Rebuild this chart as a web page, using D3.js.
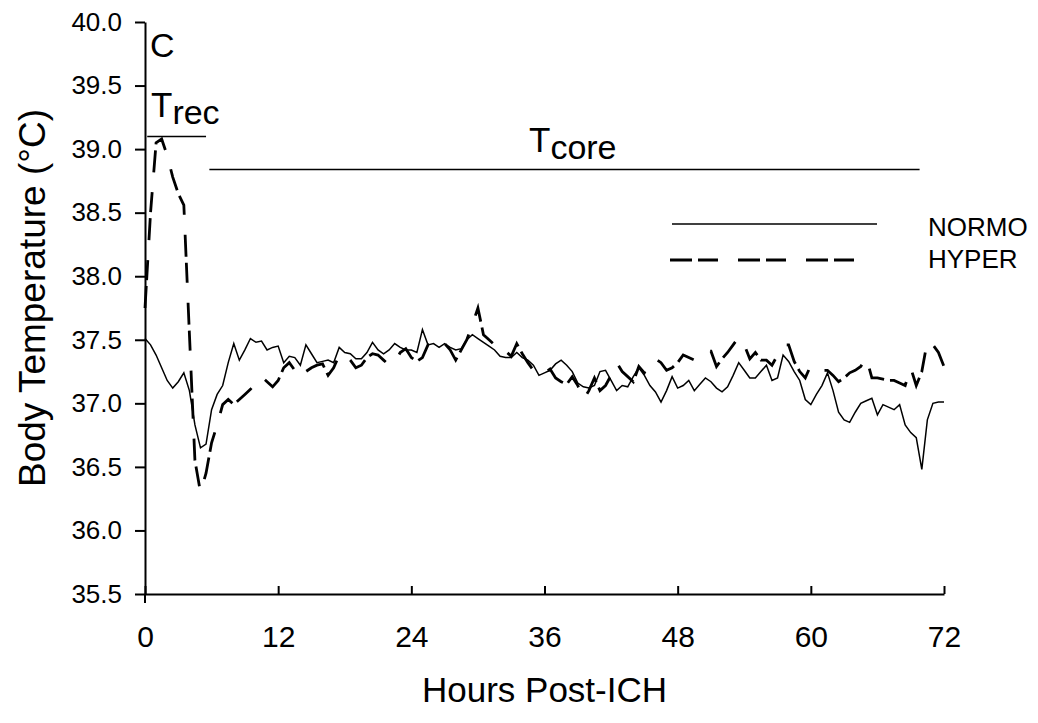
<!DOCTYPE html>
<html>
<head>
<meta charset="utf-8">
<script src="https://cdn.jsdelivr.net/npm/d3@7"></script>
<style>
  body { margin: 0; background: #fff; }
  svg { display: block; font-family: "Liberation Sans", Arial, sans-serif; }
</style>
</head>
<body>
<svg id="chart" width="1038" height="723"></svg>
<script>
// time grid, hours post-ICH (30 min samples)
const hours = d3.range(0, 72.5, 0.5);

const normo = [
  37.51, 37.46, 37.38, 37.28, 37.18, 37.12, 37.17, 37.24, 37.10, 36.83,
  36.65, 36.68, 36.95, 37.07, 37.14, 37.32, 37.47, 37.34, 37.42, 37.51,
  37.48, 37.49, 37.42, 37.44, 37.45, 37.32, 37.37, 37.36, 37.30, 37.46,
  37.39, 37.32, 37.33, 37.34, 37.32, 37.44, 37.40, 37.39, 37.35, 37.35,
  37.40, 37.48, 37.42, 37.39, 37.42, 37.47, 37.44, 37.42,
  37.42, 37.40, 37.58, 37.46, 37.47, 37.44, 37.47, 37.44, 37.42, 37.43,
  37.50, 37.54, 37.51, 37.48, 37.45, 37.42, 37.37, 37.36, 37.36, 37.40,
  37.36, 37.34, 37.30, 37.22, 37.24, 37.26, 37.31, 37.34, 37.30, 37.25,
  37.16, 37.13, 37.12, 37.14, 37.25, 37.26, 37.18, 37.10, 37.14, 37.13,
  37.21, 37.28, 37.22, 37.14, 37.09, 37.01, 37.10, 37.21,
  37.12, 37.14, 37.18, 37.10, 37.15, 37.20, 37.17, 37.12, 37.09, 37.13,
  37.22, 37.32, 37.26, 37.20, 37.20, 37.25, 37.30, 37.18, 37.20, 37.38,
  37.33, 37.25, 37.18, 37.03, 36.99, 37.07, 37.14, 37.24, 37.10, 36.93,
  36.87, 36.85, 36.93, 37.00, 37.02, 37.04, 36.91, 36.99, 36.97, 36.95,
  36.99, 36.83, 36.77, 36.73, 36.48, 36.87, 37.00, 37.01, 37.01
];

const hyper = [
  37.75, 38.50, 39.05, 39.08, 38.95, 38.78, 38.65, 38.56, 37.55, 36.55,
  36.30, 36.45, 36.69, 36.83, 36.99, 37.03, 36.99, 37.03, 37.07, 37.11,
  37.16, 37.21, 37.17, 37.13, 37.18, 37.28, 37.32, 37.26, 37.20, 37.25,
  37.28, 37.30, 37.31, 37.22, 37.28, 37.38, 37.39, 37.34, 37.28, 37.30,
  37.36, 37.39, 37.38, 37.34, 37.30, 37.32, 37.40, 37.43,
  37.36, 37.33, 37.36, 37.46, 37.42, 37.45, 37.47, 37.42, 37.34, 37.42,
  37.50, 37.62, 37.75, 37.54, 37.50, 37.46, 37.40, 37.41, 37.37, 37.47,
  37.39, 37.32, 37.26, 37.22, 37.24, 37.27, 37.20, 37.17, 37.15, 37.21,
  37.14, 37.03, 37.10, 37.20, 37.10, 37.14, 37.22, 37.32, 37.25, 37.21,
  37.17, 37.29, 37.24, 37.33, 37.35, 37.32, 37.26, 37.28,
  37.32, 37.38, 37.36, 37.34, 37.39, 37.41, 37.41, 37.29, 37.35, 37.40,
  37.46, 37.52, 37.46, 37.35, 37.40, 37.34, 37.34, 37.30, 37.38, 37.46,
  37.46, 37.33, 37.25, 37.20, 37.30, 37.28, 37.26, 37.26, 37.22, 37.17,
  37.20, 37.24, 37.26, 37.29, 37.36, 37.20, 37.20, 37.19, 37.18, 37.18,
  37.16, 37.14, 37.28, 37.14, 37.25, 37.49, 37.46, 37.40, 37.29
];

const xTicks = [0, 12, 24, 36, 48, 60, 72];
const yTicks = [35.5, 36.0, 36.5, 37.0, 37.5, 38.0, 38.5, 39.0, 39.5, 40.0];
const seriesNames = ["NORMO", "HYPER"];
// measurement windows drawn as bars above the traces
const windows = [
  { start: 0.2, end: 5.5, level: 39.1 },
  { start: 5.8, end: 69.8, level: 38.84 }
];

const svg = d3.select("#chart");
const x = d3.scaleLinear().domain([0, 72]).range([145, 944]);
const y = d3.scaleLinear().domain([35.5, 40]).range([594, 22]);

const yAxis = svg.append("g")
  .attr("transform", `translate(${x(0)},0)`)
  .call(d3.axisLeft(y).tickValues(yTicks).tickFormat(d3.format(".1f"))
    .tickSize(10).tickSizeOuter(0).tickPadding(13));

const xAxis = svg.append("g")
  .attr("transform", `translate(0,${y(35.5)})`)
  .call(d3.axisBottom(x).tickValues(xTicks)
    .tickSize(-8).tickSizeOuter(0).tickPadding(32));

[yAxis, xAxis].forEach(g => {
  g.select(".domain").attr("stroke", "#000").attr("stroke-width", 2);
  g.selectAll(".tick line").attr("stroke", "#000").attr("stroke-width", 2);
  g.selectAll(".tick text")
    .attr("fill", "#000")
    .style("font-family", "Liberation Sans, Arial, sans-serif");
});
yAxis.selectAll(".tick text").style("font-size", "26px");
xAxis.selectAll(".tick text").style("font-size", "30px");

// small overhang below the x axis at the origin
svg.append("line")
  .attr("x1", x(0)).attr("x2", x(0))
  .attr("y1", y(35.5)).attr("y2", y(35.5) + 9)
  .attr("stroke", "#000").attr("stroke-width", 2);

const line = d3.line().x((d, i) => x(hours[i])).y(d => y(d));

svg.append("path")
  .datum(normo)
  .attr("fill", "none")
  .attr("stroke", "#000")
  .attr("stroke-width", 1.5)
  .attr("d", line);

svg.append("path")
  .datum(hyper)
  .attr("fill", "none")
  .attr("stroke", "#000")
  .attr("stroke-width", 2.8)
  .attr("stroke-dasharray", "22,6,20,20")
  .attr("d", line);

// window bars + labels
windows.forEach(w => {
  svg.append("line")
    .attr("x1", x(w.start)).attr("x2", x(w.end))
    .attr("y1", y(w.level)).attr("y2", y(w.level))
    .attr("stroke", "#000").attr("stroke-width", 1.5);
});

const trec = svg.append("text")
  .attr("x", 151).attr("y", 117)
  .style("font-size", "35px");
trec.append("tspan").text("T");
trec.append("tspan").attr("dy", 7).style("font-size", "34px").text("rec");

const tcore = svg.append("text")
  .attr("x", 529).attr("y", 152)
  .style("font-size", "35px");
tcore.append("tspan").text("T");
tcore.append("tspan").attr("dy", 7).style("font-size", "34px").text("core");

svg.append("text")
  .attr("x", 150).attr("y", 57)
  .style("font-size", "34px")
  .text("C");

// legend
const legend = svg.append("g");
legend.append("line")
  .attr("x1", 672).attr("x2", 877).attr("y1", 224).attr("y2", 224)
  .attr("stroke", "#000").attr("stroke-width", 1.5);
legend.append("line")
  .attr("x1", 670).attr("x2", 862).attr("y1", 260).attr("y2", 260)
  .attr("stroke", "#000").attr("stroke-width", 2.8)
  .attr("stroke-dasharray", "22,6,20,20");
legend.selectAll("text.leg")
  .data(seriesNames)
  .join("text")
  .attr("class", "leg")
  .attr("x", 928)
  .attr("y", (d, i) => 236 + i * 32)
  .style("font-size", "26px")
  .text(d => d);

// axis titles
svg.append("text")
  .attr("x", x(36))
  .attr("y", 702)
  .attr("text-anchor", "middle")
  .style("font-size", "35px")
  .text("Hours Post-ICH");

svg.append("text")
  .attr("transform", `translate(45,298) rotate(-90)`)
  .attr("text-anchor", "middle")
  .style("font-size", "37px")
  .text("Body Temperature (°C)");
</script>
</body>
</html>
